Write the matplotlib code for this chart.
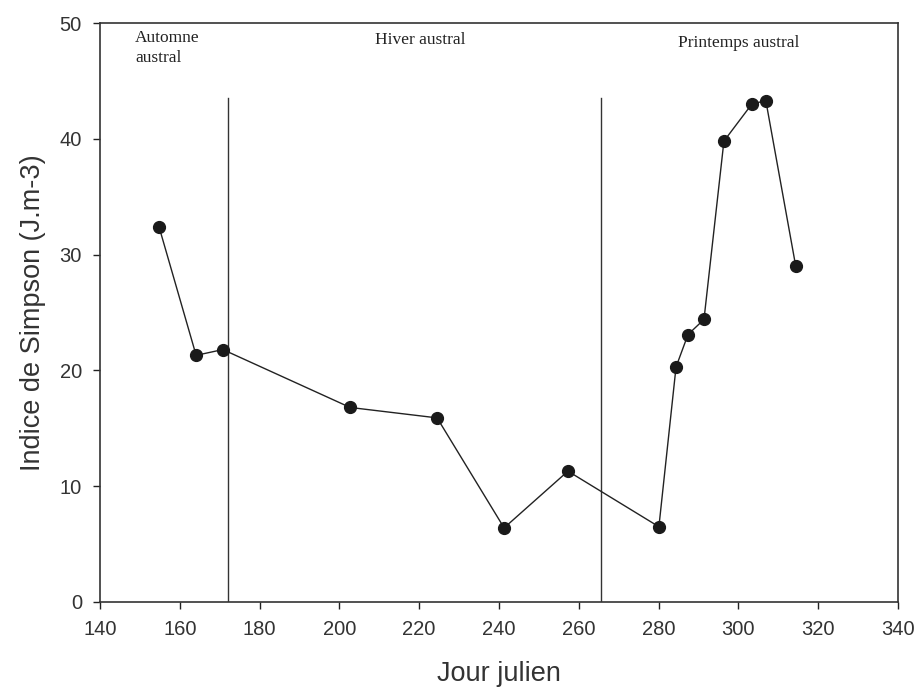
import matplotlib
matplotlib.use('agg')
import matplotlib.pyplot as plt

# Simpson index per julian day
jour = [154.8, 164.1, 170.8, 202.7, 224.5, 241.3, 257.3, 280.1,
        284.4, 287.4, 291.4, 296.4, 303.4, 306.9, 314.4]
simpson = [32.4, 21.3, 21.8, 16.8, 15.9, 6.4, 11.3, 6.5,
           20.3, 23.1, 24.4, 39.8, 43.0, 43.3, 29.0]

# season boundaries
limites = [172.0, 265.7]
saisons = ["Automne\naustral", "Hiver austral", "Printemps austral"]

xticks = list(range(140, 341, 20))
yticks = list(range(0, 51, 10))

fig = plt.figure(figsize=(9.19, 6.97), dpi=100)
ax = fig.add_axes([0.1088, 0.1363, 0.8682, 0.8307])

for x in limites:
    ax.plot([x, x], [0, 43.5], color='#333333', lw=1.0)

ax.plot(jour, simpson, color='#222222', lw=1.0, marker='o',
        markersize=8.5, markerfacecolor='#1a1a1a', markeredgecolor='#1a1a1a')

serif = dict(family='Liberation Serif', fontsize=12.5, color='#222222')
ax.text(148.8, 49.4, saisons[0], ha='left', va='top', linespacing=1.3, **serif)
ax.text(220.2, 49.2, saisons[1], ha='center', va='top', **serif)
ax.text(300.0, 49.0, saisons[2], ha='center', va='top', **serif)

ax.set_xlim(140, 340)
ax.set_ylim(0, 50)
ax.set_xticks(xticks)
ax.set_yticks(yticks)
ax.tick_params(direction='out', length=5, width=1, labelsize=14.5, pad=8,
               colors='#222222', labelcolor='#333333')
for lab in ax.get_xticklabels() + ax.get_yticklabels():
    lab.set_family('Liberation Sans')
for sp in ax.spines.values():
    sp.set_color('#333333')
    sp.set_linewidth(1.2)

ax.set_xlabel("Jour julien", fontsize=19.5, color='#333333',
              family='Liberation Sans', labelpad=16)
ax.set_ylabel("Indice de Simpson (J.m-3)", fontsize=19.5, color='#333333',
              family='Liberation Sans', labelpad=10)

fig.savefig('out.png', dpi=100)
